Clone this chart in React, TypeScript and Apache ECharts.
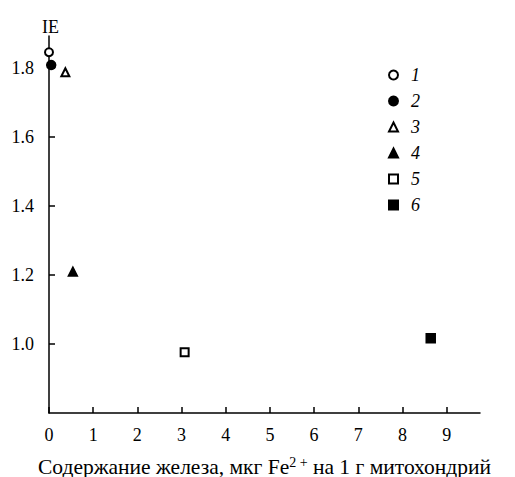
import React, { useEffect, useRef } from "react";
import * as echarts from "echarts";

// Iron content (µg Fe2+ per 1 g mitochondria) and IE value for each sample group
const groupNames = ["1", "2", "3", "4", "5", "6"];
const ironContent = [0, 0.05, 0.37, 0.54, 3.07, 8.64];
const ieValues = [1.846, 1.809, 1.788, 1.21, 0.976, 1.017];
const groupSymbols = ["emptyCircle", "circle", "emptyTriangle", "triangle", "emptyRect", "rect"];
const groupSizes = [8, 9, 8, 9, 8, 9];

const xTicks = [0, 1, 2, 3, 4, 5, 6, 7, 8, 9];
const yTicks = [1.0, 1.2, 1.4, 1.6, 1.8];

const FONT = "Liberation Serif";

export default function App() {
  const ref = useRef<HTMLDivElement>(null);

  useEffect(() => {
    if (!ref.current) return;
    const chart = echarts.init(ref.current, undefined, { renderer: "svg" });

    const series = groupNames.map((name, i) => ({
      name,
      type: "scatter",
      symbol: groupSymbols[i],
      symbolSize: groupSizes[i],
      data: [[ironContent[i], ieValues[i]]],
      itemStyle: { color: "#000", borderColor: "#000", borderWidth: 1.5, opacity: 1 },
    }));

    chart.setOption({
      animation: false,
      backgroundColor: "#fff",
      textStyle: { fontFamily: FONT, color: "#000" },
      grid: { left: 49, right: 35, top: 36, bottom: 64, containLabel: false, outerBoundsMode: "none" },
      legend: {
        orient: "vertical",
        left: 383,
        top: 61,
        itemWidth: 9,
        itemHeight: 9,
        itemGap: 8,
        data: groupNames,
        itemStyle: { opacity: 1 },
        textStyle: { fontFamily: FONT, fontStyle: "italic", fontSize: 18, color: "#000", padding: [0, 0, 0, 8] },
        selectedMode: false,
      },
      xAxis: {
        type: "value",
        min: 0,
        max: 9.755,
        interval: 1,
        splitLine: { show: false },
        axisLine: { lineStyle: { color: "#000", width: 1.5 } },
        axisTick: { inside: true, length: 6, customValues: xTicks, lineStyle: { color: "#000", width: 1.5 } },
        axisLabel: {
          customValues: xTicks,
          margin: 13,
          fontSize: 18,
          fontFamily: FONT,
          color: "#000",
        },
        name: "Содержание железа, мкг Fe{sup|2 +} на 1 г митохондрий",
        nameLocation: "middle",
        nameGap: 42,
        nameTextStyle: {
          fontFamily: FONT,
          fontSize: 21.5,
          color: "#000",
          rich: {
            sup: { fontSize: 14, fontFamily: FONT, color: "#000", verticalAlign: "top", padding: [0, 0, 9, 0] },
          },
        },
      },
      yAxis: {
        type: "value",
        min: 0.8,
        max: 1.893,
        interval: 0.2,
        splitLine: { show: false },
        axisLine: { lineStyle: { color: "#000", width: 1.5 } },
        axisTick: { inside: true, length: 6, customValues: yTicks, lineStyle: { color: "#000", width: 1.5 } },
        axisLabel: {
          customValues: yTicks,
          margin: 15,
          fontSize: 18,
          fontFamily: FONT,
          color: "#000",
          formatter: (v: number) => v.toFixed(1),
        },
        name: "IE",
        nameLocation: "end",
        nameGap: 0,
        nameTextStyle: { fontFamily: FONT, fontSize: 18, color: "#000", align: "center", padding: [0, 0, 0, 3] },
      },
      series,
    });

    return () => chart.dispose();
  }, []);

  return <div ref={ref} style={{ width: 515, height: 477, position: "absolute", left: 0, top: 0 }} />;
}
